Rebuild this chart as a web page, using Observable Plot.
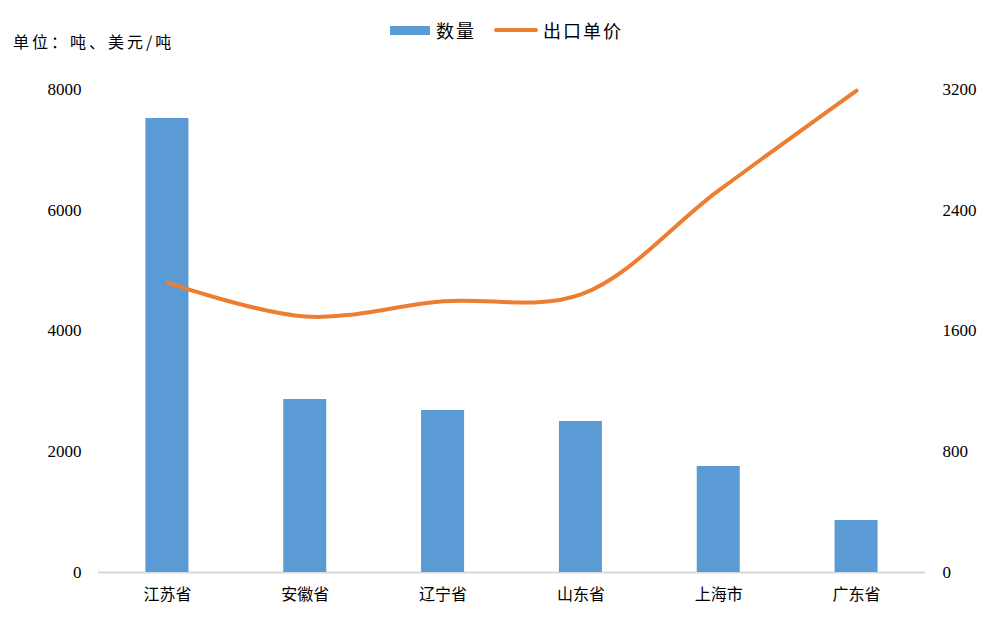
<!DOCTYPE html>
<html><head><meta charset="utf-8">
<script src="https://cdn.jsdelivr.net/npm/d3@7"></script>
<script src="https://cdn.jsdelivr.net/npm/@observablehq/plot@0.6"></script>
<style>
body{margin:0;background:#fff;}
#header{position:relative;width:1006px;height:55px;font-family:"Noto Sans CJK SC",sans-serif;color:#000;}
#unit{position:absolute;left:13px;top:31px;font-size:16px;letter-spacing:3px;line-height:20px;white-space:nowrap;}
#legend{position:absolute;left:390px;top:19px;display:flex;align-items:center;font-size:18px;line-height:22px;white-space:nowrap;}
</style></head><body>
<div id="header">
 <div id="unit">单位：吨、美元/吨</div>
 <div id="legend">
   <span style="display:inline-block;width:40px;height:9px;background:#5B9BD5"></span><span style="margin-left:6px;letter-spacing:2px">数量</span>
   <span style="display:inline-block;width:44px;height:4px;border-radius:2px;background:#ED7D31;margin-left:18px"></span><span style="margin-left:5px;letter-spacing:2px">出口单价</span>
 </div>
</div>
<div id="chart"></div>
<script>
const provinces = ["江苏省","安徽省","辽宁省","山东省","上海市","广东省"];
const quantity = [7520,2865,2683,2501,1756,861];
const unitPrice = [1920,1696,1797,1842,2531,3193];
const leftTicks = [0,2000,4000,6000,8000];
const rightTicks = [0,800,1600,2400,3200];
const ratio = 8000/3200;
const data = provinces.map((p,i)=>({province:p, quantity:quantity[i], price:unitPrice[i]}));
const numFont = '"Liberation Serif", "Times New Roman", serif';
const chart = Plot.plot({
 width:1006, height:562, marginTop:34, marginBottom:45, marginLeft:98, marginRight:81,
 style:{fontFamily:numFont, fontSize:"17px", color:"#000", background:"#fff"},
 x:{domain:provinces, paddingInner:0.688, paddingOuter:0.344, round:false, label:null},
 y:{domain:[0,8000], label:null},
 marks:[
  Plot.ruleY([0],{stroke:"#D9D9D9",strokeWidth:2}),
  Plot.barY(data,{x:"province",y:"quantity",fill:"#5B9BD5"}),
  Plot.line(data,{x:"province",y:d=>d.price*ratio,stroke:"#ED7D31",strokeWidth:4,curve:"catmull-rom",strokeLinecap:"round"}),
  Plot.axisY(leftTicks,{anchor:"left",tickSize:0,tickPadding:17,tickFormat:d=>String(d),label:null,fontFamily:numFont,fontSize:17}),
  Plot.axisY(rightTicks.map(v=>v*ratio),{anchor:"right",tickSize:0,tickPadding:17,tickFormat:d=>String(Math.round(d/ratio)),label:null,fontFamily:numFont,fontSize:17}),
  Plot.axisX({tickSize:0,tickPadding:16,label:null,fontFamily:"Noto Sans CJK SC",fontSize:16})
 ]
});
document.getElementById("chart").appendChild(chart);
</script>
</body></html>
